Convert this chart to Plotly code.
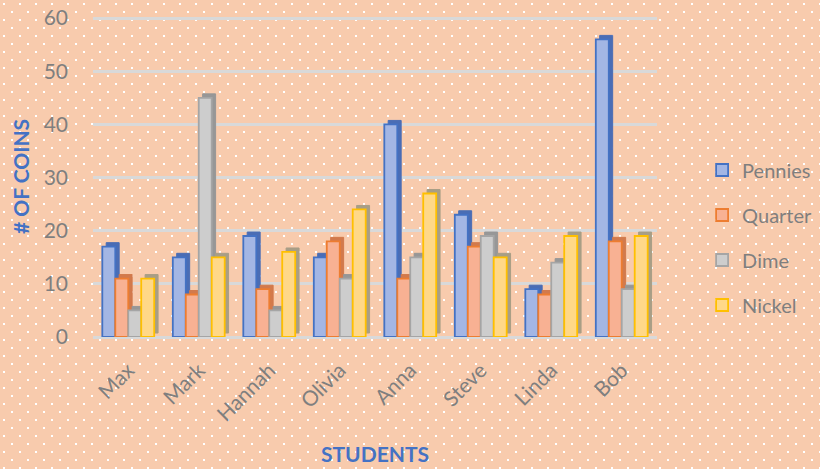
import base64
import plotly.graph_objects as go

students = ["Max", "Mark", "Hannah", "Olivia", "Anna", "Steve", "Linda", "Bob"]
series_names = ["Pennies", "Quarter", "Dime", "Nickel"]
pennies = [17, 15, 19, 15, 40, 23, 9, 56]
quarter = [11, 8, 9, 18, 11, 17, 8, 18]
dime = [5, 45, 5, 11, 15, 19, 14, 9]
nickel = [11, 15, 16, 24, 27, 15, 19, 19]
y_ticks = [0, 10, 20, 30, 40, 50, 60]

values = [pennies, quarter, dime, nickel]
face = ["#A3B6E4", "#F8B193", "#CDCDCD", "#FFD888"]
edge = ["#4472C4", "#ED7D31", "#A5A5A5", "#FFC000"]
side = ["#4A6DB5", "#D27A4C", "#979797", "#A89E86"]

W, H = 820, 469
ML, MR, MT, MB = 93, 163, 16, 132
pw, ph = W - ML - MR, H - MT - MB

# dotted peach background
svg = f'''<svg xmlns="http://www.w3.org/2000/svg" width="{W}" height="{H}">
<defs><pattern id="p" width="16" height="16" patternUnits="userSpaceOnUse">
<rect x="3" y="3" width="2" height="2" fill="#ffffff"/>
<rect x="11" y="11" width="2" height="2" fill="#ffffff"/></pattern></defs>
<rect width="{W}" height="{H}" fill="#F8CBAD"/>
<rect width="{W}" height="{H}" fill="url(#p)"/></svg>'''
src = "data:image/svg+xml;base64," + base64.b64encode(svg.encode()).decode()

bw = 0.184
depth_x = 0.055
depth_y = 0.75
fig = go.Figure()
for i, (name, vals) in enumerate(zip(series_names, values)):
    off = -2 * bw + i * bw
    fig.add_trace(go.Bar(
        x=students, y=vals, base=depth_y, offset=off + depth_x, width=bw,
        marker=dict(color=side[i], line=dict(color=side[i], width=1)),
        showlegend=False, hoverinfo="skip"))
    fig.add_trace(go.Bar(
        x=students, y=vals, offset=off, width=bw, name=name, legendgroup=name,
        marker=dict(color=face[i], line=dict(color=edge[i], width=1.8))))

fig.update_layout(
    width=W, height=H, barmode="overlay",
    margin=dict(l=ML, r=MR, t=MT, b=MB, autoexpand=False),
    paper_bgcolor="#F8CBAD", plot_bgcolor="rgba(0,0,0,0)",
    font=dict(family="Lato, sans-serif", color="#7F7F7F"),
    images=[dict(source=src, xref="paper", yref="paper",
                 x=-ML / pw, y=1 + MT / ph, sizex=W / pw, sizey=H / ph,
                 xanchor="left", yanchor="top", sizing="stretch", layer="below")],
    legend=dict(x=1.08, xanchor="left", y=0.31, yanchor="middle",
                font=dict(size=20, color="#7F7F7F"), tracegroupgap=16,
                bgcolor="rgba(0,0,0,0)"),
    xaxis=dict(tickangle=-45, tickfont=dict(size=21, color="#7F7F7F"),
               showgrid=False, showline=False, ticks="", ticklabelstandoff=16,
               title=dict(text="<b>STUDENTS</b>", font=dict(size=21, color="#4472C4"),
                          standoff=22)),
    yaxis=dict(range=[0, 60.4], tickvals=y_ticks, tickfont=dict(size=21, color="#7F7F7F"),
               gridcolor="#D9D9D9", gridwidth=2.5, zeroline=True, zerolinecolor="#D9D9D9",
               zerolinewidth=2.5, showline=False, ticklabelstandoff=24,
               title=dict(text="<b># OF COINS</b>", font=dict(size=21, color="#4472C4"),
                          standoff=8)),
)
fig.write_html("out.html", config={"displayModeBar": False},
               post_script="document.body.style.margin='0';document.body.style.padding='0';")
